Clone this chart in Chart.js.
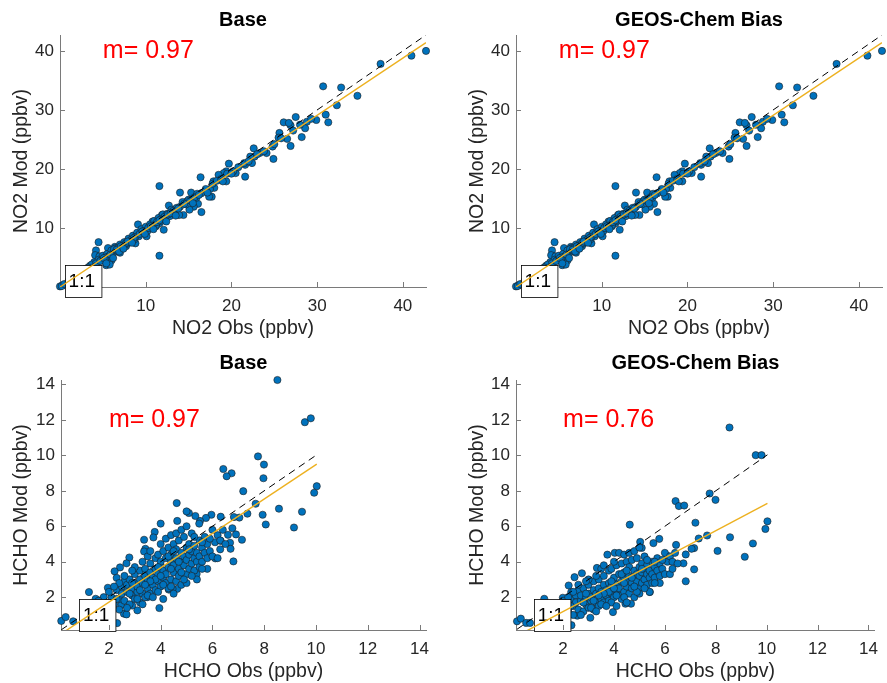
<!DOCTYPE html>
<html><head><meta charset="utf-8">
<script src="https://cdn.jsdelivr.net/npm/chart.js@4.4.0/dist/chart.umd.min.js"></script>
<style>
html,body{margin:0;padding:0;background:#fff}
body{width:887px;height:683px;position:relative;overflow:hidden}
canvas{position:absolute}
</style></head><body>
<canvas id="c0"></canvas><canvas id="c1"></canvas><canvas id="c2"></canvas><canvas id="c3"></canvas>
<script>
// ---------------- DATA ----------------
const panelTitles = ['Base', 'GEOS-Chem Bias', 'Base', 'GEOS-Chem Bias'];
const xLabels = ['NO2 Obs (ppbv)', 'NO2 Obs (ppbv)', 'HCHO Obs (ppbv)', 'HCHO Obs (ppbv)'];
const yLabels = ['NO2 Mod (ppbv)', 'NO2 Mod (ppbv)', 'HCHO Mod (ppbv)', 'HCHO Mod (ppbv)'];
const no2Ticks = [10, 20, 30, 40];
const hchoTicks = [2, 4, 6, 8, 10, 12, 14];
const no2Range = [0, 42.7];
const hchoRange = [0.15, 14.25];
const fitSlopes = [0.97, 0.97, 0.97, 0.76];
const fitIntercepts = [0.0, 0.0, -0.22, -0.33];

// NO2 [obs, mod]
const no2BasePts = [
[42.7,40.0],[41.0,39.2],[37.4,37.8],[30.7,34.0],[32.8,33.8],[34.7,32.4],[32.3,30.8],[31.0,29.2],[31.3,27.9],[29.9,28.3],
[28.8,28.0],[28.6,26.9],[28.2,25.4],[27.5,28.8],[26.9,27.4],[26.9,23.9],[26.5,25.1],[26.1,27.9],[26.7,27.8],[25.6,26.1],
[25.5,25.3],[24.9,21.7],[24.8,23.8],[24.1,22.7],[23.3,22.7],[22.6,23.5],[22.7,22.1],[22.2,22.1],[22.4,21.0],[21.6,18.7],
[21.6,20.7],[20.5,19.3],[19.7,20.9],[19.4,17.9],[19.4,19.6],[19.1,19.3],[18.5,19.0],[17.9,17.9],[18.0,16.8],[17.5,16.6],
[17.7,15.3],[17.4,15.3],[16.4,18.6],[16.5,12.7],[16.1,14.1],[15.9,15.1],[15.6,13.6],[15.3,16.0],[15.1,13.1],[14.8,14.5],
[14.4,12.2],[14.0,16.0],[13.9,12.2],[12.7,13.8],[11.6,17.1],[11.6,5.3],[11.9,12.2],[11.6,10.8],[12.1,9.7],[11.2,10.3],
[10.8,11.1],[10.1,8.6],[9.1,10.6],[9.3,9.1],[8.8,7.4],[8.1,8.0],[7.7,6.9],[7.0,5.8],[6.4,6.8],[5.6,6.6],
[6.0,4.5],[5.4,3.7],[5.8,3.8],[4.5,7.6],[4.2,6.2],[4.1,5.4],[4.6,5.2],[0.0,0.1],[0.3,0.3],[0.2,0.15],
[0.5,0.5],[1.0,1.0],[1.5,1.5],[2.0,2.1],[2.5,2.4],[3.0,3.1],[3.2,2.9],[3.5,3.6],[3.8,3.5],[4.0,4.2],
[4.3,3.9],[4.5,4.6],[4.8,4.5],[5.0,5.3],[5.2,4.8],[5.5,5.6],[5.7,5.2],[6.0,6.2],[6.2,5.7],[6.5,6.6],
[6.7,6.1],[7.0,7.2],[7.2,6.7],[7.5,7.6],[7.8,7.3],[8.0,8.2],[8.2,7.6],[8.5,8.7],[8.7,8.1],[9.0,9.2],
[9.2,8.6],[9.5,9.8],[9.7,9.1],[10.0,10.2],[10.2,9.5],[10.5,10.6],[10.7,10.0],[11.0,11.2],[11.2,10.5],[11.5,11.7],
[11.8,11.2],[12.0,12.3],[12.3,11.6],[12.5,12.4],[12.8,12.0],[13.0,13.1],[13.3,12.6],[13.6,13.4],[14.0,13.6],[14.3,14.4],
[14.7,14.0],[15.0,14.8],[15.4,14.6],[16.0,15.8],[16.5,15.9],[17.0,16.6],[17.8,17.5],[18.3,18.0],[18.8,18.3],[19.5,19.2],
[20.2,19.6],[20.8,20.3],[21.5,21.0],[22.0,21.3],[23.0,22.5],[23.8,23.0],[25.0,24.2],[25.8,25.2],[27.2,26.5],[28.0,27.5],
[29.3,28.5],[5.3,5.0],[5.9,5.5],[6.3,6.4],[6.8,6.6],[7.3,7.0],[7.7,7.4],[8.3,8.0],[8.8,8.5],[9.3,9.0],
[9.8,9.5],[10.3,10.0],[10.8,10.4],[11.3,11.0],[11.8,11.5],[12.2,11.9],[12.6,12.3],[13.2,12.9],[13.8,13.3],[14.5,14.1],
[15.2,14.7],[15.7,15.2],[16.2,15.6],[3.7,3.8],[4.2,4.0],[4.7,4.4],[5.1,4.9],[2.8,2.8],[3.3,3.3],[6.6,6.3],
[7.1,6.9],[7.9,7.7],[8.6,8.3],[9.6,9.4],[10.6,10.3],[11.6,11.3],[12.9,12.5],[5.4,4.0],[6.2,4.9],[6.9,6.0],
[7.4,6.5],[8.4,7.5],[9.9,9.0],[10.9,9.8],[12.4,11.1],[13.5,12.1],[15.5,14.2],[17.2,16.0],[19.0,17.9],[20.0,19.2]
];
const no2GCPts = no2BasePts.map(p => [p[0], p[1]]);

// HCHO Base [obs, mod]
const hchoBasePts = [
[8.51,14.25],[9.57,11.87],[9.80,12.09],[7.76,9.94],[7.99,9.48],[6.42,9.23],[6.74,8.99],[6.55,8.82],[7.97,8.71],[10.03,8.26],
[9.93,7.89],[7.19,7.98],[4.62,7.31],[7.67,7.27],[8.57,6.99],[7.94,6.65],[9.46,6.82],[7.35,6.71],[7.04,6.49],[6.83,6.52],
[8.06,6.10],[9.15,5.93],[6.32,6.54],[5.96,6.65],[5.75,6.47],[5.52,6.30],[5.34,6.58],[5.09,6.75],[5.00,6.84],[4.00,6.15],
[4.64,6.30],[5.49,6.15],[6.77,5.89],[7.14,5.24],[6.91,5.54],[6.60,5.52],[6.32,5.18],[6.68,5.07],[6.70,4.73],[6.81,4.02],
[6.11,4.19],[5.39,3.31],[3.77,5.68],[3.72,5.37],[3.36,5.24],[3.41,4.73],[3.36,4.58],[2.79,4.24],[2.68,3.91],[2.43,3.68],
[2.22,3.46],[2.30,3.09],[1.96,2.53],[1.23,2.29],[1.68,1.82],[1.49,1.91],[1.11,1.63],[0.16,0.66],[0.33,0.88],[0.62,0.64],
[1.04,0.66],[2.32,0.54],[2.58,1.07],[2.68,1.03],[3.10,1.26],[3.95,1.39],[2.48,1.57],[2.90,1.53],[3.48,2.00],[4.31,2.43],
[4.64,2.47],[4.46,2.47],
[2.1,2.0],[2.2,1.6],[2.3,2.4],[2.4,1.9],[2.5,2.6],[2.5,2.2],[2.6,1.8],[2.6,2.9],[2.7,2.3],[2.7,2.7],
[2.8,1.6],[2.8,3.0],[2.9,2.1],[2.9,2.5],[3.0,1.9],[3.0,2.8],[3.0,3.3],[3.1,2.3],[3.1,2.6],[3.2,1.7],
[3.2,3.0],[3.2,3.5],[3.3,2.2],[3.3,2.8],[3.4,2.0],[3.4,3.2],[3.4,3.6],[3.5,2.5],[3.5,3.0],[3.6,2.2],
[3.6,3.4],[3.6,3.9],[3.7,2.7],[3.7,3.1],[3.8,2.4],[3.8,3.6],[3.8,4.2],[3.9,2.9],[3.9,3.3],[3.9,4.4],
[4.0,2.6],[4.0,3.8],[4.0,4.0],[4.1,3.1],[4.1,3.5],[4.1,4.6],[4.2,2.8],[4.2,4.2],[4.2,3.3],[4.3,3.7],
[4.3,4.8],[4.3,2.5],[4.4,3.0],[4.4,4.0],[4.4,4.4],[4.5,3.4],[4.5,5.0],[4.5,3.8],[4.6,2.9],[4.6,4.2],
[4.6,4.7],[4.7,3.6],[4.7,5.2],[4.7,3.2],[4.8,4.0],[4.8,4.5],[4.8,2.7],[4.9,3.8],[4.9,5.4],[4.9,4.3],
[5.0,3.3],[5.0,4.8],[5.0,4.1],[5.1,3.6],[5.1,5.0],[5.1,4.4],[5.2,3.9],[5.2,4.6],[5.2,5.6],[5.3,3.5],
[5.3,4.2],[5.3,4.9],[5.4,4.0],[5.4,4.5],[5.5,3.7],[5.5,5.2],[5.5,4.3],[5.6,4.8],[5.6,4.0],[5.7,4.5],
[5.7,5.4],[5.8,4.2],[5.8,5.0],[5.9,4.6],[6.0,5.8],[6.0,4.3],[6.1,5.1],[6.2,5.5],[6.3,5.2],[6.4,5.8],
[6.5,5.0],[3.0,3.7],[3.5,4.3],[2.4,2.8],[2.0,2.3],[1.9,1.7],[1.8,2.0],[1.6,1.8],[1.4,1.5],[2.2,2.6],
[2.6,3.2],[2.9,3.5],[3.3,4.0],[3.6,4.6],[4.0,5.0],[4.2,5.3],[4.4,5.5],[4.6,5.6],[4.8,5.8],[5.0,6.0],
[3.1,1.9],[3.5,2.1],[3.9,2.3],[4.4,2.6],[2.7,1.4],[3.3,1.6],[2.1,1.3],[4.1,1.9],[4.5,2.2],[5.0,2.8],
[5.4,3.0],[5.8,3.6],[6.2,4.2],[4.9,3.0],[4.1,2.7],[3.7,2.0],[2.4,1.3],[3.8,3.0],[4.3,4.3],[4.7,4.0],
[5.1,4.7],[5.6,5.1],[2.8,2.2],[3.2,2.4],[3.6,2.9],[4.0,3.2],[4.4,3.6],[4.8,3.4],[5.2,3.2],[5.6,3.6],
[5.9,5.3],[6.3,4.7],[2.3,1.9],[2.9,2.8],[3.4,2.7],[3.9,3.7],[4.5,4.6],[5.3,5.4]
];

// HCHO GEOS-Chem Bias [obs, mod]
const hchoGCPts = [
[8.54,11.57],[9.57,10.01],[9.80,10.01],[7.76,7.85],[7.99,7.49],[6.42,7.42],[6.55,7.14],[6.76,7.17],[7.20,6.20],[10.03,6.28],
[9.95,5.85],[4.62,6.09],[7.66,5.48],[8.56,5.38],[8.07,4.61],[9.46,5.03],[9.14,4.28],[7.33,5.31],[7.15,4.77],[7.05,4.73],
[6.82,4.41],[6.73,3.91],[6.82,2.90],[7.15,3.57],[6.44,4.95],[6.09,4.33],[5.78,5.29],[5.55,5.05],[5.03,5.12],[5.09,4.78],
[4.03,4.50],[3.74,4.40],[3.33,3.65],[2.74,3.35],[2.45,3.13],[2.22,2.66],[2.32,2.29],[1.26,1.91],[1.99,1.97],[0.19,0.64],
[0.34,0.79],[0.55,0.55],[0.70,0.55],[2.33,0.42],[4.67,1.63],[4.45,1.63],[5.41,2.29],[3.96,1.16],[3.07,0.84],[2.56,0.96],
[2.1,1.6],[2.2,1.2],[2.3,1.9],[2.4,1.5],[2.5,2.1],[2.5,1.7],[2.6,1.3],[2.6,2.4],[2.7,1.8],[2.7,2.1],
[2.8,1.2],[2.8,2.5],[2.9,1.6],[2.9,2.0],[3.0,1.4],[3.0,2.2],[3.0,2.7],[3.1,1.8],[3.1,2.0],[3.2,1.3],
[3.2,2.4],[3.2,2.9],[3.3,1.7],[3.3,2.2],[3.4,1.5],[3.4,2.5],[3.4,3.0],[3.5,1.9],[3.5,2.3],[3.6,1.7],
[3.6,2.7],[3.6,3.2],[3.7,2.1],[3.7,2.4],[3.8,1.8],[3.8,2.8],[3.8,3.5],[3.9,2.2],[3.9,2.6],[3.9,3.6],
[4.0,2.0],[4.0,2.9],[4.0,3.1],[4.1,2.4],[4.1,2.7],[4.1,3.8],[4.2,2.1],[4.2,3.3],[4.2,2.5],[4.3,2.9],
[4.3,3.9],[4.3,1.9],[4.4,2.3],[4.4,3.1],[4.4,3.4],[4.5,2.6],[4.5,4.0],[4.5,2.9],[4.6,2.2],[4.6,3.2],
[4.6,3.7],[4.7,2.8],[4.7,4.1],[4.7,2.5],[4.8,3.1],[4.8,3.5],[4.8,2.0],[4.9,2.9],[4.9,4.2],[4.9,3.3],
[5.0,2.5],[5.0,3.7],[5.0,3.2],[5.1,2.8],[5.1,3.9],[5.1,3.4],[5.2,3.0],[5.2,3.6],[5.2,4.3],[5.3,2.7],
[5.3,3.3],[5.3,3.8],[5.4,3.1],[5.4,3.5],[5.5,2.8],[5.5,4.0],[5.5,3.3],[5.6,3.7],[5.6,3.1],[5.7,3.5],
[5.7,4.2],[5.8,3.2],[5.8,3.9],[5.9,3.6],[6.0,4.5],[6.0,3.3],[6.1,4.0],[6.2,4.3],[6.3,4.0],[6.4,4.5],
[6.5,3.9],[3.0,3.0],[3.5,3.6],[2.4,2.3],[2.0,1.8],[1.9,1.4],[1.8,1.6],[1.6,1.4],[1.4,1.2],[2.2,2.0],
[2.6,2.7],[2.9,2.9],[3.3,3.2],[3.6,3.8],[4.0,4.0],[4.2,4.5],[4.4,4.4],[4.6,4.5],[4.8,4.6],[5.0,4.8],
[3.1,1.4],[3.5,1.6],[3.9,1.7],[4.4,2.0],[2.7,1.0],[3.3,1.2],[2.1,1.0],[4.1,1.5],[4.5,1.7],[5.0,2.2],
[5.4,2.3],[5.8,2.8],[6.2,3.3],[4.9,2.3],[4.1,2.1],[3.7,1.5],[2.4,1.0],[3.8,2.3],[4.3,3.3],[4.7,3.1],
[5.1,3.6],[5.6,4.0],[2.8,1.7],[3.2,1.8],[3.6,2.2],[4.0,2.5],[4.4,2.8],[4.8,2.6],[5.2,2.5],[5.6,2.8],
[5.9,4.1],[6.3,3.6],[2.3,1.5],[2.9,2.2],[3.4,2.1],[3.9,2.9],[4.5,3.5],[5.3,4.1]
];

// ---------------- DRAWING ----------------
const FONT = '"Liberation Sans", Arial, Helvetica, sans-serif';
const AXIS = '#7a7a7a';
const TXT = '#262626';

const panels = [
  {id:'c0', cx:0,   cy:0,   w:440, h:340, area:{left:60, right:426, top:35, bottom:287}, titleDy:15,
   pts:no2BasePts, range:no2Range, ticks:no2Ticks, mPos:[5,40], boxPos:[1,1]},
  {id:'c1', cx:456, cy:0,   w:431, h:340, area:{left:60, right:426, top:35, bottom:287}, titleDy:15,
   pts:no2GCPts, range:no2Range, ticks:no2Ticks, mPos:[5,40], boxPos:[1,1]},
  {id:'c2', cx:0,   cy:340, w:440, h:343, area:{left:61, right:426, top:40, bottom:290}, titleDy:17,
   pts:hchoBasePts, range:hchoRange, ticks:hchoTicks, mPos:[2,12], boxPos:[1,1]},
  {id:'c3', cx:456, cy:340, w:431, h:343, area:{left:60, right:426, top:40, bottom:290}, titleDy:17,
   pts:hchoGCPts, range:hchoRange, ticks:hchoTicks, mPos:[2,12], boxPos:[1,1]}
];

function makePanel(p, i) {
  const cv = document.getElementById(p.id);
  cv.width = p.w; cv.height = p.h;
  cv.style.left = p.cx + 'px'; cv.style.top = p.cy + 'px';
  cv.style.width = p.w + 'px'; cv.style.height = p.h + 'px';
  const xsVals = p.pts.map(a => a[0]);
  const xMin = Math.min(...xsVals), xMax = Math.max(...xsVals);
  const slope = fitSlopes[i], icpt = fitIntercepts[i];

  const decor = {
    id: 'decor' + i,
    beforeDatasetDraw(chart, args) {
      if (args.index !== 0) return;
      const ctx = chart.ctx, xs = chart.scales.x, ys = chart.scales.y;
      const bx = xs.getPixelForValue(p.boxPos[0]), by = ys.getPixelForValue(p.boxPos[1]);
      ctx.save();
      ctx.font = '19px ' + FONT;
      const tw = ctx.measureText('1:1').width;
      ctx.fillStyle = '#fff'; ctx.strokeStyle = '#000'; ctx.lineWidth = 0.8;
      const rx = Math.round(bx - 4) + 0.5, ry = Math.round(by - 16) + 0.5;
      ctx.fillRect(rx, ry, tw + 10, 32);
      ctx.strokeRect(rx, ry, tw + 10, 32);
      ctx.fillStyle = '#000'; ctx.textAlign = 'left'; ctx.textBaseline = 'middle';
      ctx.fillText('1:1', bx, by + 1);
      ctx.restore();
    },
    afterDraw(chart) {
      const ctx = chart.ctx, xs = chart.scales.x, ys = chart.scales.y, a = chart.chartArea;
      ctx.save();
      // inward ticks
      ctx.strokeStyle = AXIS; ctx.lineWidth = 1;
      ctx.beginPath();
      p.ticks.forEach(v => {
        const px = Math.round(xs.getPixelForValue(v)) + 0.5;
        ctx.moveTo(px, a.bottom); ctx.lineTo(px, a.bottom - 5);
        const py = Math.round(ys.getPixelForValue(v)) + 0.5;
        ctx.moveTo(a.left, py); ctx.lineTo(a.left + 5, py);
      });
      ctx.stroke();
      // title
      ctx.fillStyle = '#000'; ctx.font = 'bold 20px ' + FONT;
      ctx.textAlign = 'center'; ctx.textBaseline = 'middle';
      ctx.fillText(panelTitles[i], (a.left + a.right) / 2, a.top - p.titleDy);
      // slope label
      ctx.fillStyle = '#ff0000'; ctx.font = '25px ' + FONT;
      ctx.textAlign = 'left'; ctx.textBaseline = 'middle';
      ctx.fillText('m= ' + slope.toFixed(2), xs.getPixelForValue(p.mPos[0]), ys.getPixelForValue(p.mPos[1]));
      ctx.restore();
    }
  };

  const axisCommon = (isX) => ({
    type: 'linear',
    min: p.range[0], max: p.range[1],
    afterBuildTicks(s) { s.ticks = p.ticks.map(v => ({value: v})); },
    afterFit(s) { if (isX) s.height = p.h - p.area.bottom; else s.width = p.area.left; },
    grid: {display: false, drawTicks: false},
    border: {display: true, color: AXIS, width: 1},
    ticks: {padding: isX ? 9 : 6, color: TXT, font: {family: FONT, size: 17}, autoSkip: false,
            maxRotation: 0, minRotation: 0, callback: v => String(v)},
    title: {display: true, text: isX ? xLabels[i] : yLabels[i], color: TXT,
            font: {family: FONT, size: 19.5}, padding: isX ? {top: 0, bottom: 0} : {top: 10, bottom: 0}}
  });

  new Chart(cv, {
    type: 'scatter',
    data: {
      datasets: [
        {label: 'fit', data: [xMin, xMax].map(x => ({x: x, y: slope * x + icpt})), showLine: true,
         borderColor: '#EDB120', borderWidth: 1.4, pointRadius: 0, fill: false},
        {label: '1:1', data: [xMin, xMax].map(x => ({x: Math.max(x, p.range[0]), y: Math.max(x, p.range[0])})), showLine: true,
         borderColor: '#000', borderWidth: 1, borderDash: [7, 5], pointRadius: 0, fill: false},
        {label: 'obs', data: p.pts.map(a => ({x: a[0], y: a[1]})), showLine: false, clip: false,
         pointRadius: 3.6, pointBackgroundColor: '#0072BD', pointBorderColor: '#1c1c1c', pointBorderWidth: 0.6}
      ]
    },
    options: {
      responsive: false, animation: false, devicePixelRatio: 1,
      layout: {padding: {left: 0, right: p.w - p.area.right, top: p.area.top, bottom: 0}},
      plugins: {legend: {display: false}, tooltip: {enabled: false}, title: {display: false}},
      scales: {x: axisCommon(true), y: axisCommon(false)}
    },
    plugins: [decor]
  });
}
panels.forEach(makePanel);
</script>
</body></html>
